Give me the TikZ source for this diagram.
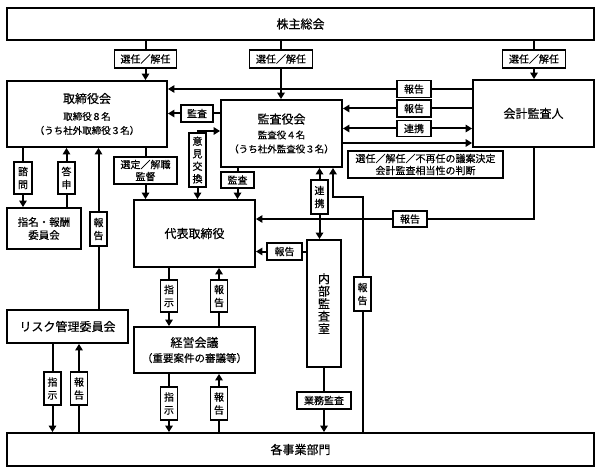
\documentclass[tikz,border=0pt]{standalone}
\usepackage{fontspec}
\setmainfont{Noto Sans CJK JP}[FakeBold=0.4]
\usetikzlibrary{arrows.meta}
\pgfdeclarelayer{background}
\pgfsetlayers{background,main}
\newcommand\smalltxt{\fontsize{9.5}{11.5}\selectfont}
\begin{document}
\begin{tikzpicture}[x=1pt,y=-1pt,
  box/.style={draw, line width=1.9pt, fill=white, inner sep=0pt, align=center, font=\fontsize{12}{14}\selectfont},
  lbl/.style={draw, line width=1.5pt, fill=white, inner sep=0pt, align=center, font=\fontsize{10}{12}\selectfont},
  hl/.style={lbl, minimum width=34pt, minimum height=17pt},
  vl/.style={lbl, minimum width=17pt, minimum height=33pt, font=\fontsize{10}{13}\selectfont},
  arr/.style={draw=black, line width=2pt, -{Triangle[length=6.5pt,width=7.5pt]}},
  darr/.style={draw=black, line width=2pt, {Triangle[length=6.5pt,width=7.5pt]}-{Triangle[length=6.5pt,width=7.5pt]}},
]
\useasboundingbox (0,0) rectangle (601,473);
% main boxes
\node[box, minimum width=587pt, minimum height=32pt] (kabu) at (300.5,24) {株主総会};
\node[box, minimum width=160pt, minimum height=66pt] (tori) at (87,114)
  {取締役会\\[3pt]{\smalltxt 取締役８名}\\{\smalltxt（うち社外取締役３名）}};
\node[box, minimum width=121pt, minimum height=67pt] (kansa) at (281.5,133.5)
  {監査役会\\[1pt]{\smalltxt 監査役４名}\\{\smalltxt（うち社外監査役３名）}};
\node[box, minimum width=121pt, minimum height=67pt] (kaikei) at (533.5,113.5) {会計監査人};
\node[box, minimum width=74pt, minimum height=41pt, font=\fontsize{10.5}{13}\selectfont] (shimei) at (44,228.5) {指名・報酬\\委員会};
\node[box, minimum width=121pt, minimum height=67pt] (daihyo) at (194.5,233.5) {代表取締役};
\node[box, minimum width=34pt, minimum height=127pt, font=\fontsize{12}{12.5}\selectfont] (naibu) at (324,303.5) {内\\部\\監\\査\\室};
\node[box, minimum width=121pt, minimum height=33pt] (risk) at (67.5,326.5) {リスク管理委員会};
\node[box, minimum width=121pt, minimum height=46pt] (keiei) at (194.5,350)
  {経営会議\\[1pt]{\fontsize{10.5}{12}\selectfont（重要案件の審議等）}};
\node[box, minimum width=587pt, minimum height=33pt] (jigyo) at (300.5,449.5) {各事業部門};
% labels
\node[lbl, minimum width=62pt, minimum height=18pt] (l1) at (145.5,59) {選任／解任};
\node[lbl, minimum width=63pt, minimum height=18pt] (l2) at (281,59) {選任／解任};
\node[lbl, minimum width=63pt, minimum height=18pt] (l3) at (534,59) {選任／解任};
\node[hl] (l4) at (414,89) {報告};
\node[hl] (l5) at (414,108.5) {報告};
\node[hl, minimum height=16pt] (l6) at (414,128.5) {連携};
\node[hl, minimum width=32pt] (l8) at (197,113.5) {監査};
\node[vl, minimum height=54pt, font=\fontsize{10}{12.5}\selectfont] (l9) at (197.5,160) {意\\見\\交\\換};
\node[hl, minimum width=33pt, minimum height=16pt] (l10) at (237.5,180) {監査};
\node[lbl, minimum width=63pt, minimum height=27pt] (l11) at (145.5,170.5) {選定／解職\\監督};
\node[vl, minimum height=34pt] (l12) at (319.5,197) {連\\携};
\node[vl, minimum height=34pt] (l13) at (362.5,294) {報\\告};
\node[hl, minimum height=16pt] (l14) at (410,219) {報告};
\node[hl, minimum width=35pt] (l15) at (284.5,251.5) {報告};
\node[vl, minimum width=18pt, minimum height=32pt] (l16) at (23,178) {諮\\問};
\node[vl, minimum height=32pt] (l17) at (66.5,178) {答\\申};
\node[vl, minimum height=34pt] (l18) at (98.5,229) {報\\告};
\node[vl, minimum height=32pt] (l19) at (169,296) {指\\示};
\node[vl, minimum height=32pt] (l20) at (219,296) {報\\告};
\node[vl, minimum height=33pt] (l21) at (52.5,388.5) {指\\示};
\node[vl, minimum height=33pt] (l22) at (79,388.5) {報\\告};
\node[vl, minimum height=33pt] (l23) at (169,403.5) {指\\示};
\node[vl, minimum height=33pt] (l24) at (219,403.5) {報\\告};
\node[hl, minimum width=54pt] (l25) at (324,400.5) {業務監査};
\node[lbl, minimum width=155pt, minimum height=27pt] (ann) at (425.5,164.5) {選任／解任／不再任の議案決定\\会計監査相当性の判断};
% connectors
\begin{pgfonlayer}{background}
\draw[arr] (l1 |- kabu.south) -- (l1 |- tori.north);
\draw[arr] (l2 |- kabu.south) -- (l2 |- kansa.north);
\draw[arr] (l3 |- kabu.south) -- (l3 |- kaikei.north);
\draw[arr] (kaikei.west |- l4) -- (tori.east |- l4);
\draw[arr] (kaikei.west |- l5) -- (kansa.east |- l5);
\draw[darr] (kansa.east |- l6) -- (kaikei.west |- l6);
\draw[arr] (kansa.east |- 0,143) -- (kaikei.west |- 0,143);
\draw[arr] (kansa.west |- l8) -- (tori.east |- l8);
\draw[darr] (l9 |- daihyo.north) -- (l9 |- 0,131) -- (kansa.west |- 0,131);
\draw[arr] (l10 |- kansa.south) -- (l10 |- daihyo.north);
\draw[arr] (l11 |- tori.south) -- (l11 |- daihyo.north);
\draw[darr] (l12 |- kansa.south) -- (l12 |- naibu.north);
\draw[arr] (l13 |- jigyo.north) -- (l13 |- 0,197) -- (333,197) -- (333,0 |- kansa.south);
\draw[arr] (l3 |- kaikei.south) -- (l3 |- l14) -- (daihyo.east |- l14);
\draw[arr] (naibu.west |- l15) -- (daihyo.east |- l15);
\draw[arr] (l16 |- tori.south) -- (l16 |- shimei.north);
\draw[arr] (l17 |- shimei.north) -- (l17 |- tori.south);
\draw[arr] (l18 |- risk.north) -- (l18 |- tori.south);
\draw[arr] (l19 |- daihyo.south) -- (l19 |- keiei.north);
\draw[arr] (l20 |- keiei.north) -- (l20 |- daihyo.south);
\draw[arr] (l21 |- risk.south) -- (l21 |- jigyo.north);
\draw[arr] (l22 |- jigyo.north) -- (l22 |- risk.south);
\draw[arr] (l23 |- keiei.south) -- (l23 |- jigyo.north);
\draw[arr] (l24 |- jigyo.north) -- (l24 |- keiei.south);
\draw[arr] (l25 |- naibu.south) -- (l25 |- jigyo.north);
\end{pgfonlayer}
\end{tikzpicture}
\end{document}
